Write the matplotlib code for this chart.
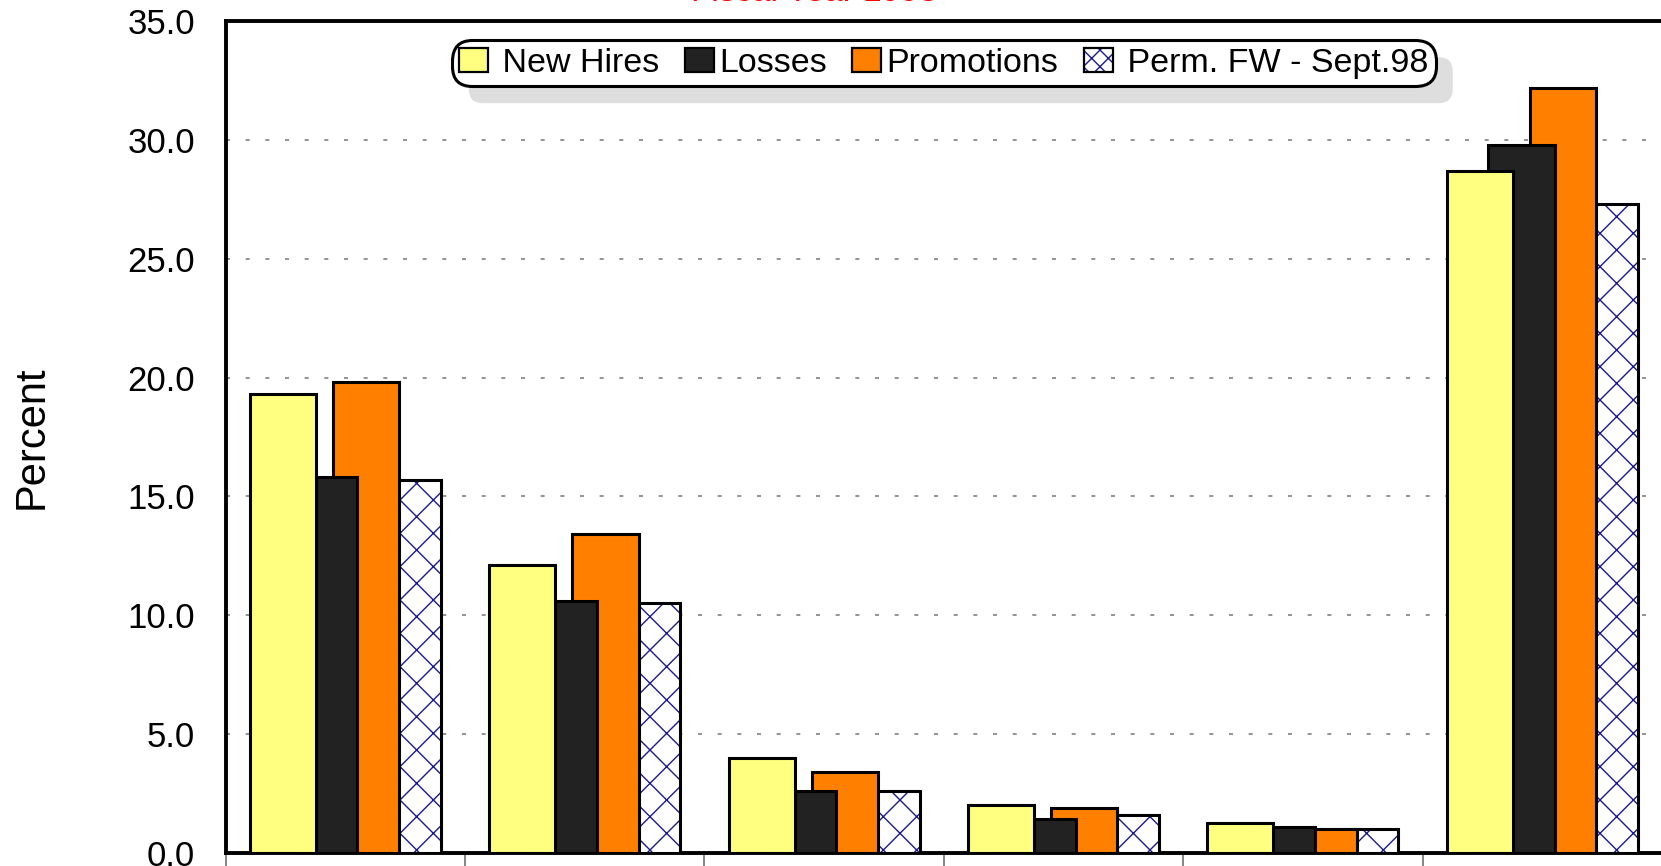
import numpy as np
import matplotlib
matplotlib.use("Agg")
import matplotlib.pyplot as plt
from matplotlib.patches import FancyBboxPatch, Patch
from matplotlib.legend_handler import HandlerTuple
from matplotlib.transforms import IdentityTransform

plt.rcParams['font.family'] = ['Liberation Sans', 'DejaVu Sans']
plt.rcParams['hatch.linewidth'] = 1.0

# data (percent)
series = ['New Hires', 'Losses', 'Promotions', 'Perm. FW - Sept.98']
new_hires = [19.3, 12.1, 4.0, 2.0, 1.25, 28.7]
losses = [15.8, 10.6, 2.6, 1.4, 1.1, 29.8]
promotions = [19.8, 13.4, 3.4, 1.9, 1.0, 32.2]
perm_fw = [15.7, 10.5, 2.6, 1.6, 1.0, 27.3]
yticks = [0.0, 5.0, 10.0, 15.0, 20.0, 25.0, 30.0, 35.0]

values = [new_hires, losses, promotions, perm_fw]
colors = ['#FFFF80', '#222222', '#FF8000', 'white']
hatch_col = '#1a1a8c'

fig = plt.figure(figsize=(16.61, 8.66), dpi=100)
ax = fig.add_axes([0.1358, 0.0154, 0.8648, 0.9601])

n = len(new_hires)
x = np.arange(n) + 0.5
width = 0.276
step = 0.174

handles = []
for k, (vals, col) in enumerate(zip(values, colors)):
    pos = x + (k - 1.5) * step
    z = 10 - k  # first series sits in front
    if k == 3:
        ax.bar(pos, vals, width, color='white', edgecolor=hatch_col,
               hatch='x', linewidth=0, zorder=z)
        ax.bar(pos, vals, width, color='none', edgecolor='black',
               linewidth=2.2, zorder=z)
        h = (Patch(facecolor='white', edgecolor=hatch_col, hatch='xx', linewidth=0),
             Patch(facecolor='none', edgecolor='black', linewidth=1.6))
    else:
        ax.bar(pos, vals, width, color=col, edgecolor='black',
               linewidth=2.2, zorder=z)
        h = Patch(facecolor=col, edgecolor='black', linewidth=1.6)
    handles.append(h)

ax.set_xlim(0, n)
ax.set_ylim(0, 35)
ax.set_yticks(yticks)
ax.set_yticklabels(['%.1f' % v for v in yticks], fontsize=25)
ax.tick_params(axis='y', length=0, pad=22)
ax.set_xticks(np.arange(n + 1))
ax.set_xticklabels([])
ax.tick_params(axis='x', direction='out', length=20, width=1.2, color='#707070')

ax.yaxis.grid(True, color='#808080', linewidth=1.2,
              linestyle=(0, (2.4, 9.4)))
ax.set_axisbelow(True)

for s in ['left', 'bottom', 'top']:
    ax.spines[s].set_linewidth(2.8)
ax.spines['right'].set_visible(False)

ax.set_ylabel('Percent', fontsize=30, labelpad=0)
ax.yaxis.set_label_coords(-0.121, 0.5)

# red title, almost entirely above the visible area
fig.text(0.49, 0.9985, 'Fiscal Year 1998', color='red', fontsize=24,
         ha='center', va='baseline')

labels = [' New Hires', 'Losses', 'Promotions', ' Perm. FW - Sept.98']
leg = ax.legend(handles, labels, loc='upper center',
                bbox_to_anchor=(0.5, 1 - 19 / 831.5), ncol=4, fontsize=24.5,
                handlelength=0.85, handleheight=0.7, handletextpad=0.15,
                columnspacing=0.75, borderpad=0.22, borderaxespad=0,
                fancybox=True, framealpha=1, edgecolor='black',
                handler_map={tuple: HandlerTuple(ndivide=1, pad=0)})
leg.get_frame().set_linewidth(2.2)
leg.get_frame().set_boxstyle('round,pad=0,rounding_size=0.6')
leg.set_zorder(20)

fig.canvas.draw()
bb = leg.get_frame().get_window_extent()
shadow = FancyBboxPatch((bb.x0 + 17, bb.y0 - 17), bb.width, bb.height,
                        boxstyle='round,pad=0,rounding_size=14',
                        transform=IdentityTransform(), facecolor='#dedede',
                        edgecolor='none', zorder=19, clip_on=False)
ax.add_patch(shadow)

fig.savefig('out.png', dpi=100)
